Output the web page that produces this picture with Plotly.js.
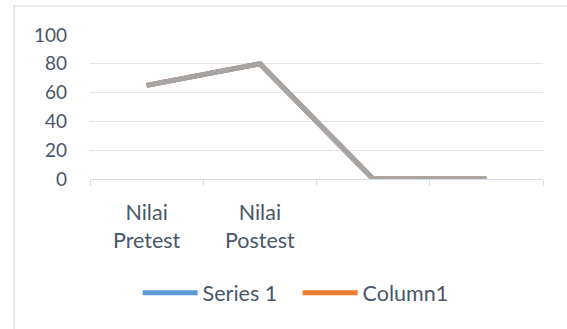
<!DOCTYPE html>
<html><head><meta charset="utf-8">
<script src="https://cdn.plot.ly/plotly-3.0.1.min.js"></script>
<style>html,body{margin:0;padding:0;background:#fff}#chart{width:567px;height:329px}</style>
</head><body><div id="chart"></div>
<script>
var categories = ["Nilai<br>Pretest", "Nilai<br>Postest", " ", "  "];
var series1 = [65, 80, 0, 0];
var column1 = [65, 80, 0, 0];
var column2 = [65, 80, 0, 0];
var yTicks = [0, 20, 40, 60, 80, 100];

var textColor = '#4a5669';
var fam = 'Lato, "Open Sans", sans-serif';
var yFont = {family: fam, size: 19, color: textColor};
var tFont = {family: fam, size: 21.5, color: textColor};

var traces = [
  {x: categories, y: series1, name: 'Series 1', type: 'scatter', mode: 'lines',
   line: {color: '#5b9bd5', width: 5}},
  {x: categories, y: column1, name: 'Column1', type: 'scatter', mode: 'lines',
   line: {color: '#ed7d31', width: 5}},
  {x: categories, y: column2, name: 'Column2', type: 'scatter', mode: 'lines',
   line: {color: '#a5a5a5', width: 5}, showlegend: false}
];

var layout = {
  width: 567, height: 329,
  margin: {l: 90, r: 24, t: 35, b: 150},
  paper_bgcolor: '#fff', plot_bgcolor: '#fff',
  font: tFont,
  showlegend: true,
  legend: {orientation: 'h', x: 0.4583, xanchor: 'center', y: -0.79, yanchor: 'middle',
           font: tFont, itemwidth: 55, entrywidth: 90, traceorder: 'normal'},
  xaxis: {type: 'category', categoryorder: 'array', categoryarray: categories,
          range: [-0.5, 3.5], tickson: 'boundaries', ticks: 'outside', ticklen: 6,
          tickcolor: '#d9dee6', showline: true, linecolor: '#d9dee6', linewidth: 1,
          showgrid: false, zeroline: false, tickfont: tFont, ticklabelstandoff: 14,
          fixedrange: true},
  yaxis: {range: [0, 100], tickmode: 'array', tickvals: yTicks, ticks: '',
          showgrid: true, gridcolor: '#e1e5ec', gridwidth: 1, zeroline: false,
          showline: false, tickfont: yFont, ticklabelstandoff: 22, fixedrange: true},
  shapes: [
    {type: 'rect', xref: 'paper', yref: 'paper', x0: -76/453, x1: 1.2, y0: -1.2, y1: 1 + 29/144,
     line: {color: '#dde3ea', width: 1.5}, fillcolor: 'rgba(0,0,0,0)', layer: 'below'}
  ]
};

Plotly.newPlot('chart', traces, layout, {displayModeBar: false, staticPlot: true});
</script></body></html>
